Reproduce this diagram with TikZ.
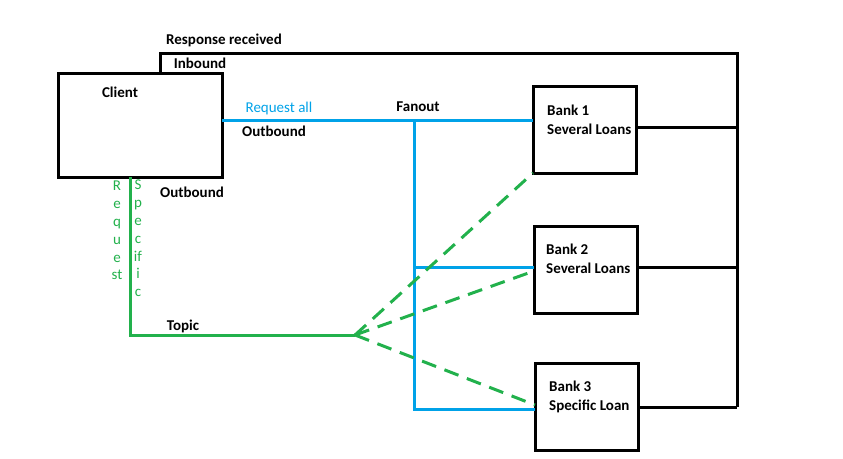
\documentclass[tikz,border=0pt]{standalone}
\usepackage{fontspec}
\setmainfont{Carlito}
\usetikzlibrary{positioning, calc}
\definecolor{paintblue}{RGB}{0, 162, 232}
\definecolor{paintgreen}{RGB}{34, 177, 76}

\begin{document}
\begin{tikzpicture}[x=1pt, y=-1pt,
    box/.style={draw, rectangle, line width=3pt, outer sep=0pt, inner sep=0pt},
    bankbox/.style={box, minimum width=103pt, minimum height=87pt},
    lbl/.style={inner sep=0pt, font=\fontsize{15}{17}\selectfont\bfseries},
    banklbl/.style={lbl, align=left, anchor=west, font=\fontsize{15}{19}\selectfont\bfseries},
    vlbl/.style={paintgreen, align=center, inner sep=0pt, font=\fontsize{15}{17.8}\selectfont},
    respline/.style={line width=3pt},
    blueline/.style={paintblue, line width=3pt},
    greenline/.style={paintgreen, line width=3pt},
    greendash/.style={greenline, dash pattern=on 15pt off 9pt}]
    \useasboundingbox (0,0) rectangle (843,458);

    % client and banks
    \node[box, minimum width=164pt, minimum height=104pt] (client) at (140,125) {};
    \node[lbl] (clientlbl) at (120,92) {Client};
    \node[bankbox] (bank1) at (584.5,129.5) {};
    \node[bankbox] (bank2) at (585.5,269.5) {};
    \node[bankbox] (bank3) at (586.5,406.5) {};
    \node[banklbl] (bank1lbl) at (547,119.5) {Bank 1\\Several Loans};
    \node[banklbl] (bank2lbl) at (546,259) {Bank 2\\Several Loans};
    \node[banklbl] (bank3lbl) at (549,397) {Bank 3\\Specific Loan};

    % inbound response path
    \coordinate (inb) at (160,53);
    \coordinate (rtop) at (737,53);
    \coordinate (rbot) at (737,407);
    \draw[respline] (client.north -| inb) -- (inb) -- (rtop) -- (rbot);
    \draw[respline] (bank1.east |- 0,127) -- (rtop |- 0,127);
    \draw[respline] (bank2.east |- 0,267) -- (rtop |- 0,267);
    \draw[respline] (bank3.east |- rbot) -- (rbot);
    \node[lbl] (resplbl) at (224,40) {Response received};
    \node[lbl] (inblbl) at (200,63) {Inbound};

    % fanout (request all)
    \coordinate (fan) at (414,120);
    \coordinate (fanbot) at (414,409);
    \draw[blueline] (client.east |- fan) -- (bank1.west |- fan);
    \draw[blueline] (fan) -- (fanbot) -- (bank3.west |- fanbot);
    \draw[blueline] (fan |- 0,267) -- (bank2.west |- 0,267);
    \node[lbl, paintblue, font=\fontsize{15}{17}\selectfont] (reqall) at (279,108) {Request all};
    \node[lbl] (outlbl1) at (274,131) {Outbound};
    \node[lbl] (fanlbl) at (418,107) {Fanout};

    % topic (request specific)
    \coordinate (gcorner) at (130,335);
    \coordinate (topic) at (355,335);
    \draw[greenline] (client.south -| gcorner) -- (gcorner) -- (topic);
    \draw[greendash] (topic) -- (bank1.south west);
    \draw[greendash] (topic) -- (bank2.west |- 0,271);
    \draw[greendash] (topic) -- (bank3.west |- 0,405);
    \node[vlbl, anchor=north] (reqv) at (117,181) {R\\e\\q\\u\\e\\st};
    \node[vlbl, anchor=north] (specv) at (138,180) {S\\p\\e\\c\\if\\i\\c};
    \node[lbl] (outlbl2) at (192,192) {Outbound};
    \node[lbl] (topiclbl) at (183,326) {Topic};
\end{tikzpicture}
\end{document}
